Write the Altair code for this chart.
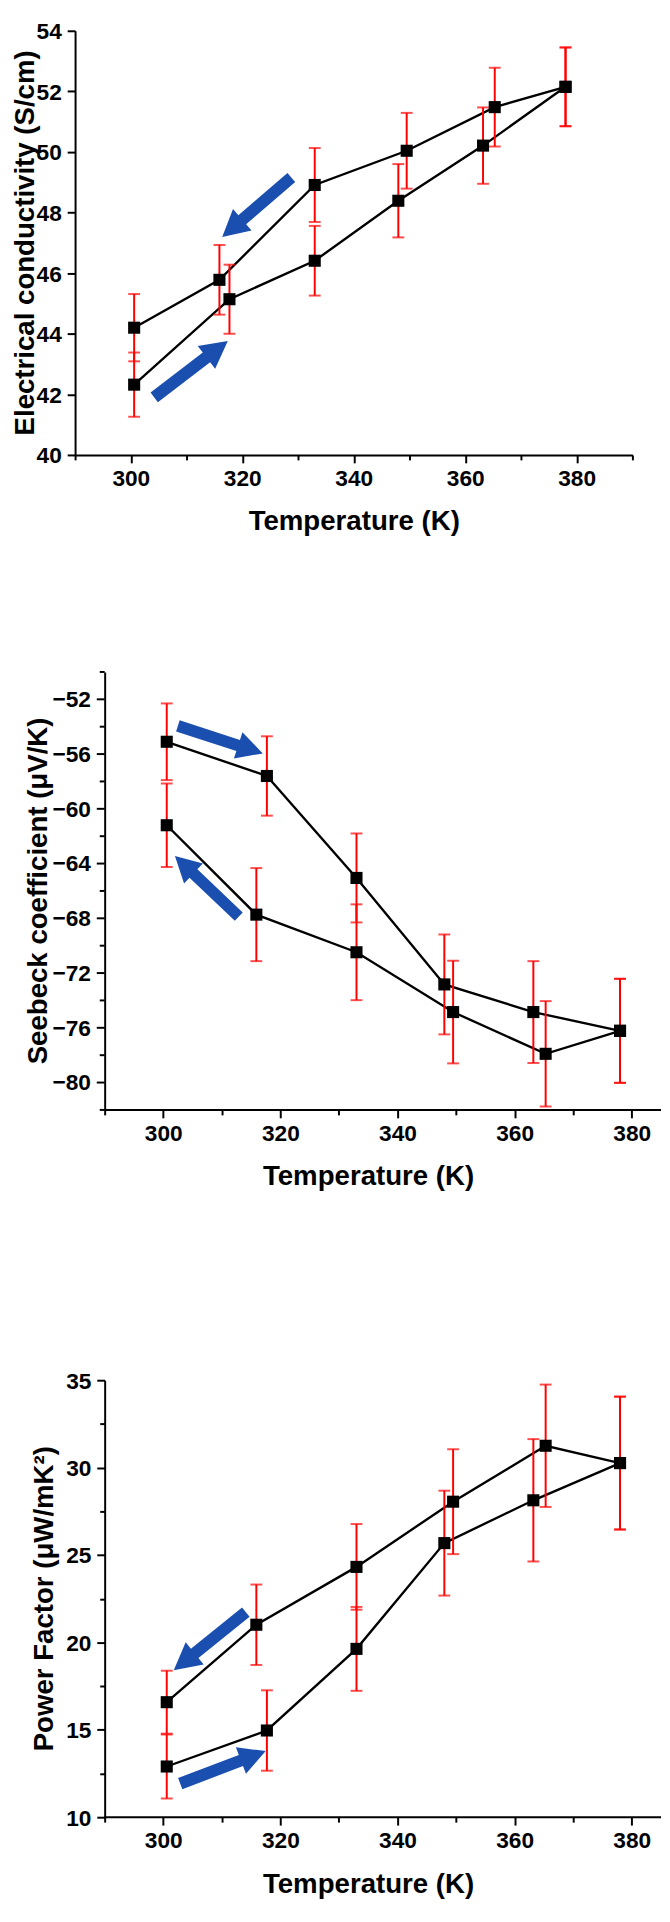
import math
import altair as alt
import pandas as pd

# ---------------- data ----------------
T_heat = [300.6, 317.7, 333.0, 348.0, 363.2, 378.0]
T_cool = [378.0, 365.3, 349.5, 333.0, 315.9, 300.6]

# Electrical conductivity (S/cm)
sig_heat = [42.32, 45.14, 46.41, 48.39, 50.21, 52.15]
sig_heat_err = [1.06, 1.14, 1.15, 1.21, 1.26, 1.30]
sig_cool = [52.15, 51.48, 50.04, 48.91, 45.78, 44.20]
sig_cool_err = [1.30, 1.30, 1.25, 1.22, 1.15, 1.11]

# Seebeck coefficient (uV/K)
S_heat = [-55.1, -57.6, -65.05, -72.83, -74.85, -76.22]
S_heat_err = [2.80, 2.90, 3.25, 3.65, 3.72, 3.80]
S_cool = [-76.22, -77.9, -74.85, -70.48, -67.73, -61.2]
S_cool_err = [3.80, 3.85, 3.75, 3.50, 3.40, 3.05]
S_major_ticks = [-52, -56, -60, -64, -68, -72, -76, -80]
S_minor_ticks = [-50, -54, -58, -62, -66, -70, -74, -78, -82]

# Power factor (uW/mK^2)
PF_heat = [12.9, 14.96, 19.63, 25.68, 28.13, 30.26]
PF_heat_err = [1.83, 2.30, 2.40, 3.00, 3.50, 3.80]
PF_cool = [30.26, 31.25, 28.05, 24.32, 21.01, 16.58]
PF_cool_err = [3.80, 3.50, 3.00, 2.45, 2.30, 1.80]

# arrows: (T_tail, v_tail, T_tip, v_tip)
arrows_sig = [(328.8, 49.16, 316.4, 47.19), (304.2, 41.9, 317.4, 43.76)]
arrows_S = [(302.5, -53.94, 317.0, -55.95), (312.9, -67.87, 302.0, -63.44)]
arrows_PF = [(314.1, 21.73, 301.8, 18.41), (302.9, 11.92, 317.5, 13.78)]

# ---------------- style ----------------
FONT = "Liberation Sans"
RED = "#ff0000"
BLUE = "#1a4fb0"
ARROW_PATH = ("M -1 -0.13 L 0.42 -0.13 L 0.42 -0.31 L 1 0 L 0.42 0.31 "
              "L 0.42 0.13 L -1 0.13 Z")


def make_df(vh, eh, vc, ec, sign):
    rows = []
    for br, ts, vs, es in (("heat", T_heat, vh, eh), ("cool", T_cool, vc, ec)):
        for i, (t, v, e) in enumerate(zip(ts, vs, es)):
            m = v * sign
            rows.append(dict(T=t, v=m, lo=m - e, hi=m + e, branch=br, ord=i))
    return pd.DataFrame(rows)


def arrow_df(arrows, xdom, ydom, w, h, sign):
    kx = w / (xdom[1] - xdom[0])
    ky = h / (ydom[1] - ydom[0])
    rows = []
    for (t0, v0, t1, v1) in arrows:
        m0, m1 = v0 * sign, v1 * sign
        dx = (t1 - t0) * kx
        dy = -(m1 - m0) * ky * sign     # reversed scale when sign == -1
        L = math.hypot(dx, dy)
        ang = math.degrees(math.atan2(dy, dx)) % 360
        rows.append(dict(T=(t0 + t1) / 2, v=(m0 + m1) / 2, sz=L * L, ang=ang))
    return pd.DataFrame(rows)


def spacer(px, py):
    return alt.Chart(alt.Data(values=[{"a": 1}])).mark_point(
        opacity=0, size=1
    ).encode(x=alt.value(px), y=alt.value(py))


def panel(df, arrows, xdom, xstart, xend, xticks, ydom, yticks, lab_test, ytitle,
          w, h, yoff, top_ext, bot_ext, title_cx, sign=1, manual=None):
    xs = alt.Scale(domain=xdom, nice=False, zero=False)
    ys = alt.Scale(domain=ydom, nice=False, zero=False, reverse=(sign == -1))
    xaxis = alt.Axis(
        values=xticks, title="Temperature (K)", grid=False, domain=(yoff == 0),
        labelExpr="datum.value % 20 == 0 ? datum.label : ''",
        tickSize={"condition": {"test": "datum.value % 20 != 0", "value": 5}, "value": 8},
        labelPadding=5, titlePadding=18, labelFlush=False, labelOverlap=False,
    )
    if manual is None:
        yaxis = alt.Axis(
            values=yticks, title=None, grid=False, offset=yoff,
            labelExpr=f"{lab_test} ? datum.label : ''",
            tickSize={"condition": {"test": f"!({lab_test})", "value": 5}, "value": 8},
            labelPadding=6, labelBaseline="top", labelOffset=-10,
            labelFlush=False, labelOverlap=False,
        )
    else:
        yaxis = alt.Axis(title=None, grid=False, offset=yoff, labels=False, ticks=False)
    base = alt.Chart(df)
    line = base.mark_line(color="black", strokeWidth=2.4).encode(
        x=alt.X("T:Q", scale=xs, axis=xaxis),
        y=alt.Y("v:Q", scale=ys, axis=yaxis),
        detail="branch:N",
        order="ord:Q",
    )
    bars = base.mark_rule(color=RED, strokeWidth=2).encode(
        x="T:Q", y="lo:Q", y2="hi:Q"
    )
    cap_hi = base.mark_tick(color=RED, thickness=2, size=12, orient="horizontal").encode(
        x="T:Q", y="hi:Q"
    )
    cap_lo = base.mark_tick(color=RED, thickness=2, size=12, orient="horizontal").encode(
        x="T:Q", y="lo:Q"
    )
    pts = base.mark_point(shape="square", filled=True, color="black", size=150,
                          opacity=1).encode(x="T:Q", y="v:Q")
    arr = alt.Chart(arrow_df(arrows, xdom, ydom, w, h, sign)).mark_point(
        shape=ARROW_PATH, filled=True, color=BLUE, opacity=1, strokeWidth=0
    ).encode(
        x="T:Q", y="v:Q",
        size=alt.Size("sz:Q", scale=None, legend=None),
        angle=alt.Angle("ang:Q", scale=None),
    )
    ytitle_mark = alt.Chart(alt.Data(values=[{"t": ytitle}])).mark_text(
        angle=270, align="center", baseline="middle", font=FONT, fontSize=28,
        fontWeight="bold", color="black"
    ).encode(text="t:N", x=alt.value(title_cx), y=alt.value(h / 2))
    layers = [line, bars, cap_hi, cap_lo, pts, arr, ytitle_mark,
              spacer(-67, -top_ext), spacer(-67, h + bot_ext)]
    if manual is not None:
        majors, minors = manual
        ax = -yoff
        maj_df = pd.DataFrame({"m": [v * sign for v in majors], "raw": majors})
        min_df = pd.DataFrame({"m": [v * sign for v in minors]})
        layers.append(alt.Chart(maj_df).mark_rule(color="black", strokeWidth=2).encode(
            x=alt.value(ax - 8), x2=alt.value(ax), y="m:Q"))
        layers.append(alt.Chart(min_df).mark_rule(color="black", strokeWidth=2).encode(
            x=alt.value(ax - 5), x2=alt.value(ax), y="m:Q"))
        layers.append(alt.Chart(maj_df).mark_text(
            align="right", baseline="middle", font=FONT, fontSize=23,
            fontWeight="bold", color="black", dy=1
        ).encode(x=alt.value(ax - 14), y="m:Q", text="raw:Q"))
    if yoff != 0:
        ybottom = ydom[1] if sign == -1 else ydom[0]
        xline = alt.Chart(alt.Data(values=[{"x0": xstart, "x1": xend, "y0": ybottom}])).mark_rule(
            color="black", strokeWidth=2
        ).encode(x="x0:Q", x2="x1:Q", y="y0:Q")
        layers.append(xline)
    return alt.layer(*layers).properties(width=w, height=h)


# plot sizes (px)
W1, H1 = 565, 430
SHIFT = 30                     # panels 2-3: y axis sits 30 px right of panel 1's
W23 = 564
H2, H3 = 444, 443

x1dom = [290, 390]
k23 = W23 / (385 - 290)
x23dom = [290 - SHIFT / k23, 385]
x1ticks = list(range(290, 391, 10))
x23ticks = list(range(290, 381, 10))

p1 = panel(make_df(sig_heat, sig_heat_err, sig_cool, sig_cool_err, 1), arrows_sig,
           x1dom, 290, 390, x1ticks, [40, 54], list(range(40, 55)),
           "datum.value % 2 == 0", "Electrical conductivity (S/cm)",
           W1, H1, 0, 4, 178, -50)
p2 = panel(make_df(S_heat, S_heat_err, S_cool, S_cool_err, -1), arrows_S,
           x23dom, 290, 385, x23ticks, [50, 82], None,
           None, "Seebeck coefficient (\u03bcV/K)",
           W23 + SHIFT, H2, -SHIFT, 40, 232, -36, sign=-1,
           manual=(S_major_ticks, S_minor_ticks))
p3 = panel(make_df(PF_heat, PF_heat_err, PF_cool, PF_cool_err, 1), arrows_PF,
           x23dom, 290, 385, x23ticks, [10, 35], [10 + 2.5 * i for i in range(11)],
           "datum.value % 5 == 0", "Power Factor (\u03bcW/mK\u00b2)",
           W23 + SHIFT, H3, -SHIFT, 40, 60, -30)

chart = alt.vconcat(p1, p2, p3, spacing=0).resolve_scale(
    x="independent", y="independent"
).properties(
    padding={"left": 0, "top": 0, "right": 0, "bottom": 0}
).configure_view(stroke=None).configure_axis(
    domainColor="black", domainWidth=2, tickColor="black", tickWidth=2,
    labelFont=FONT, labelFontSize=23, labelFontWeight="bold", labelColor="black",
    titleFont=FONT, titleFontSize=28, titleFontWeight="bold", titleColor="black",
)

chart.save("out.html", embed_options={"renderer": "svg", "actions": False})
